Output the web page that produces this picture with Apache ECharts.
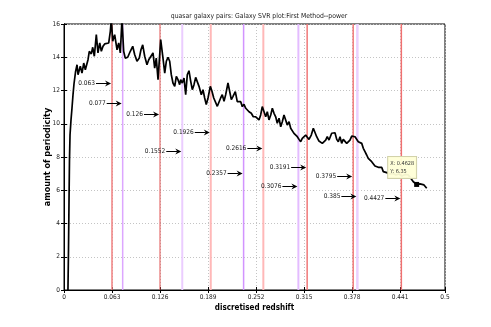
<!DOCTYPE html>
<html lang="en" style="height: 100%">
<head>
  <meta charset="utf-8">
  <title>quasar galaxy pairs</title>
</head>
<body style="height: 100%; margin: 0; background: #fff">
  <div id="container" style="width: 491px; height: 327px"></div>

  <script type="text/javascript" src="https://cdn.jsdelivr.net/npm/echarts@6/dist/echarts.min.js"></script>
  <script type="text/javascript">
    // curve: discretised redshift vs amount of periodicity
    const redshift = [0.0052,0.0059,0.0066,0.0072,0.0079,0.0092,0.0105,0.0118,0.0131,0.0151,
      0.0171,0.0184,0.0214,0.0236,0.0259,0.0280,0.0315,0.0332,0.0358,0.0377,
      0.0398,0.0424,0.0446,0.0469,0.0490,0.0512,0.0534,0.0555,0.0587,0.0608,
      0.0621,0.0639,0.0665,0.0696,0.0718,0.0739,0.0761,0.0783,0.0804,0.0836,
      0.0870,0.0902,0.0928,0.0958,0.0988,0.1010,0.1033,0.1059,0.1089,0.1112,
      0.1138,0.1168,0.1190,0.1211,0.1234,0.1269,0.1299,0.1322,0.1343,0.1365,
      0.1387,0.1408,0.1430,0.1453,0.1474,0.1496,0.1518,0.1531,0.1552,0.1575,
      0.1597,0.1618,0.1640,0.1663,0.1684,0.1706,0.1728,0.1749,0.1772,0.1802,
      0.1824,0.1846,0.1867,0.1890,0.1920,0.1942,0.1965,0.1991,0.2012,0.2034,
      0.2056,0.2077,0.2100,0.2122,0.2152,0.2175,0.2196,0.2218,0.2248,0.2274,
      0.2297,0.2319,0.2340,0.2362,0.2385,0.2406,0.2428,0.2458,0.2484,0.2516,
      0.2537,0.2559,0.2581,0.2602,0.2625,0.2647,0.2668,0.2690,0.2713,0.2734,
      0.2756,0.2778,0.2799,0.2822,0.2844,0.2865,0.2887,0.2909,0.2930,0.2953,
      0.2975,0.2996,0.3018,0.3041,0.3062,0.3084,0.3106,0.3127,0.3150,0.3172,
      0.3193,0.3215,0.3245,0.3272,0.3294,0.3316,0.3346,0.3369,0.3390,0.3412,
      0.3434,0.3455,0.3478,0.3513,0.3534,0.3556,0.3579,0.3600,0.3622,0.3644,
      0.3665,0.3688,0.3710,0.3731,0.3753,0.3776,0.3797,0.3819,0.3841,0.3862,
      0.3885,0.3907,0.3928,0.3950,0.3972,0.3993,0.4016,0.4038,0.4059,0.4081,
      0.4104,0.4125,0.4147,0.4169,0.4190,0.4213,0.4235,0.4256,0.4278,0.4318,
      0.4357,0.4396,0.4436,0.4475,0.4518,0.4541,0.4563,0.4584,0.4628,0.4652,
      0.4672,0.4694,0.4724,0.4760];
    const power = [0,2.41,5.41,7.82,9.32,10.23,10.95,11.73,12.39,13.11,
      13.55,12.95,13.46,13.05,13.65,13.25,13.85,14.36,14.2,14.6,
      14.06,15.36,14.26,14.86,14.36,14.66,14.8,14.75,14.86,15.56,
      16.3,14.96,15.36,14.45,14.86,14.26,16.3,14.36,13.95,14.0,
      14.36,14.66,14.15,13.76,13.95,14.45,14.75,14.06,13.55,13.85,
      13.85,14.26,13.35,13.95,12.65,15.06,13.95,13.05,13.76,14.0,
      13.76,12.95,12.45,12.25,12.85,12.65,12.35,12.65,12.45,12.75,
      11.75,12.95,13.19,12.55,12.05,12.35,12.79,12.85,12.25,11.75,
      12.05,11.55,11.15,11.55,12.25,11.95,11.55,11.45,11.05,10.95,
      11.55,11.75,11.35,11.75,12.45,12.35,11.45,11.65,11.93,11.33,
      11.27,11.33,11.03,11.17,10.93,11.03,10.72,10.63,10.42,10.42,
      10.47,10.23,10.53,11.03,10.72,10.42,10.72,10.23,10.53,10.93,
      10.63,10.42,10.03,10.33,9.82,10.12,10.53,10.23,9.92,10.12,
      9.73,9.62,9.42,9.32,9.22,9.06,8.92,9.12,9.22,9.32,
      9.19,9.06,9.32,9.73,9.62,9.22,8.96,9.02,8.82,8.72,
      9.02,9.22,9.02,9.43,9.32,9.46,9.06,8.92,9.22,8.82,
      9.06,9.02,8.82,8.92,9.02,9.26,9.32,9.22,9.12,8.92,
      9.02,8.82,8.52,8.32,8.12,7.92,8.02,7.72,7.66,7.46,
      7.52,7.38,7.26,7.38,7.12,7.22,7.06,7.18,6.98,7.01,
      6.92,6.98,6.86,6.95,6.92,6.78,6.66,6.51,6.35,6.41,
      6.38,6.46,6.32,6.12];

    // marked redshifts (vertical lines)
    const redLines = [0.063, 0.126, 0.1926, 0.2616, 0.3191, 0.3795, 0.4427];
    const purpleLines = [0.077, 0.1552, 0.2357, 0.3076, 0.385];

    // arrow annotations: where they point and at which height
    const arrowLabels = ['0.063', '0.077', '0.126', '0.1926', '0.1552', '0.2616',
      '0.2357', '0.3191', '0.3076', '0.3795', '0.385', '0.4427'];
    const arrowAt = [0.063, 0.077, 0.126, 0.1926, 0.1552, 0.2616,
      0.2357, 0.3191, 0.3076, 0.3795, 0.385, 0.4427];
    const arrowLevel = [12.45, 11.25, 10.59, 9.5, 8.36, 8.54,
      7.04, 7.4, 6.26, 6.86, 5.65, 5.53];

    // data tip
    const tipX = 0.4628;
    const tipY = 6.35;

    const xTicks = ['0', '0.063', '0.126', '0.189', '0.252', '0.315', '0.378', '0.441', '0.5'];

    const FONT = '"Liberation Sans Narrow", "DejaVu Sans Condensed", "Liberation Sans", sans-serif';
    const redColors = ['#f08080', '#e05050', '#ffb8b8', '#ffb8b8', '#f07878', '#f07878', '#f07070'];
    const redWidths = [1.5, 1, 2, 2, 1.5, 1.5, 1.5];
    const purpleColors = ['#dca6ff', '#ebcdff', '#d294ff', '#e4bcff', '#ebd0ff'];
    const purpleWidths = [1.5, 2, 1.5, 2, 2.5];

    var dom = document.getElementById('container');
    var myChart = echarts.init(dom, null, { renderer: 'canvas' });

    const vlines = redLines.map((v, i) => [v, 0, i])
      .concat(purpleLines.map((v, i) => [v, 1, i]));

    var axisCommon = {
      axisLine: { show: true, lineStyle: { color: '#000', width: 1 } },
      axisTick: { show: true, inside: true, length: 3, lineStyle: { color: '#000' } }
    };
    var gridLine = { show: true, lineStyle: { color: '#c4c4c4', type: [1, 2], width: 1 } };

    var option = {
      animation: false,
      textStyle: { fontFamily: FONT },
      title: {
        text: 'quasar galaxy pairs: Galaxy SVR plot:First Method--power',
        left: 254,
        top: 8,
        textAlign: 'center',
        textStyle: { fontSize: 6.8, fontWeight: 'normal', color: '#222', fontFamily: FONT }
      },
      grid: { left: 64, right: 46, top: 24, bottom: 37, show: true, borderColor: '#000', borderWidth: 1, backgroundColor: '#fff' },
      xAxis: [
        Object.assign({
          type: 'value', min: 0, max: 0.5, interval: 0.063, position: 'bottom',
          name: 'discretised redshift', nameLocation: 'middle', nameGap: 14, nameMoveOverlap: false,
          nameTextStyle: { fontSize: 8, fontWeight: 'bold', color: '#000', fontFamily: FONT },
          axisLabel: {
            fontSize: 6.5, color: '#222', margin: 4, fontFamily: FONT,
            formatter: function (v) {
              var r = Math.round(v * 1000) / 1000;
              var s = xTicks.find(t => Math.abs(parseFloat(t) - r) < 1e-6);
              return s !== undefined ? s : String(r);
            }
          },
          splitLine: gridLine
        }, axisCommon),
        Object.assign({
          type: 'value', min: 0, max: 0.5, interval: 0.063, position: 'top',
          axisLabel: { show: false }, splitLine: { show: false }
        }, axisCommon)
      ],
      yAxis: [
        Object.assign({
          type: 'value', min: 0, max: 16, interval: 2, position: 'left',
          name: 'amount of periodicity', nameLocation: 'middle', nameGap: 12, nameRotate: 90, nameMoveOverlap: false,
          nameTextStyle: { fontSize: 9, fontWeight: 'bold', color: '#000', fontFamily: FONT },
          axisLabel: { fontSize: 6.5, color: '#222', margin: 4, fontFamily: FONT },
          splitLine: gridLine
        }, axisCommon),
        Object.assign({
          type: 'value', min: 0, max: 16, interval: 2, position: 'right',
          axisLabel: { show: false }, splitLine: { show: false }
        }, axisCommon)
      ],
      series: [
        {
          // coloured vertical markers
          type: 'custom',
          z: 2,
          silent: true,
          data: vlines,
          renderItem: function (params, api) {
            var kind = api.value(1), i = api.value(2);
            var top = api.coord([api.value(0), 16]);
            var bot = api.coord([api.value(0), 0]);
            var color = kind === 0 ? redColors[i] : purpleColors[i];
            var w = kind === 0 ? redWidths[i] : purpleWidths[i];
            return {
              type: 'line',
              shape: { x1: top[0], y1: top[1], x2: bot[0], y2: bot[1] },
              style: { stroke: color, lineWidth: w }
            };
          }
        },
        {
          type: 'line',
          z: 3,
          data: redshift.map((x, i) => [x, power[i]]),
          showSymbol: false,
          symbol: 'none',
          clip: true,
          lineStyle: { color: '#000', width: 1.7 },
          markPoint: {
            silent: true,
            data: [{
              coord: [tipX, tipY],
              symbol: 'rect',
              symbolSize: 5,
              itemStyle: { color: '#000' },
              label: {
                show: true,
                position: [-26, -25],
                formatter: 'X: ' + tipX + '\nY: ' + tipY,
                fontSize: 5.5,
                lineHeight: 8,
                color: '#333',
                fontFamily: FONT,
                backgroundColor: 'rgba(255,255,215,0.95)',
                borderColor: '#cfcfa8',
                borderWidth: 1,
                padding: [3, 2, 2, 2]
              }
            }]
          }
        },
        {
          // arrow annotations
          type: 'custom',
          z: 4,
          silent: true,
          data: arrowAt.map((v, i) => [v, arrowLevel[i]]),
          renderItem: function (params, api) {
            var p = api.coord([api.value(0), api.value(1)]);
            var tip = p[0] - 1, y = Math.round(p[1]) + 0.5;
            return {
              type: 'group',
              children: [
                { type: 'line', shape: { x1: tip - 15, y1: y, x2: tip - 4, y2: y }, style: { stroke: '#000', lineWidth: 1 } },
                { type: 'polygon', shape: { points: [[tip, y], [tip - 6, y - 3], [tip - 4, y], [tip - 6, y + 3]] }, style: { fill: '#000' } },
                {
                  type: 'text', x: tip - 16, y: y,
                  style: { text: arrowLabels[params.dataIndex], align: 'right', verticalAlign: 'middle', fontSize: 6.5, fontFamily: FONT, fill: '#222' }
                }
              ]
            };
          }
        }
      ]
    };

    myChart.setOption(option);
    window.addEventListener('resize', myChart.resize);
  </script>
</body>
</html>
